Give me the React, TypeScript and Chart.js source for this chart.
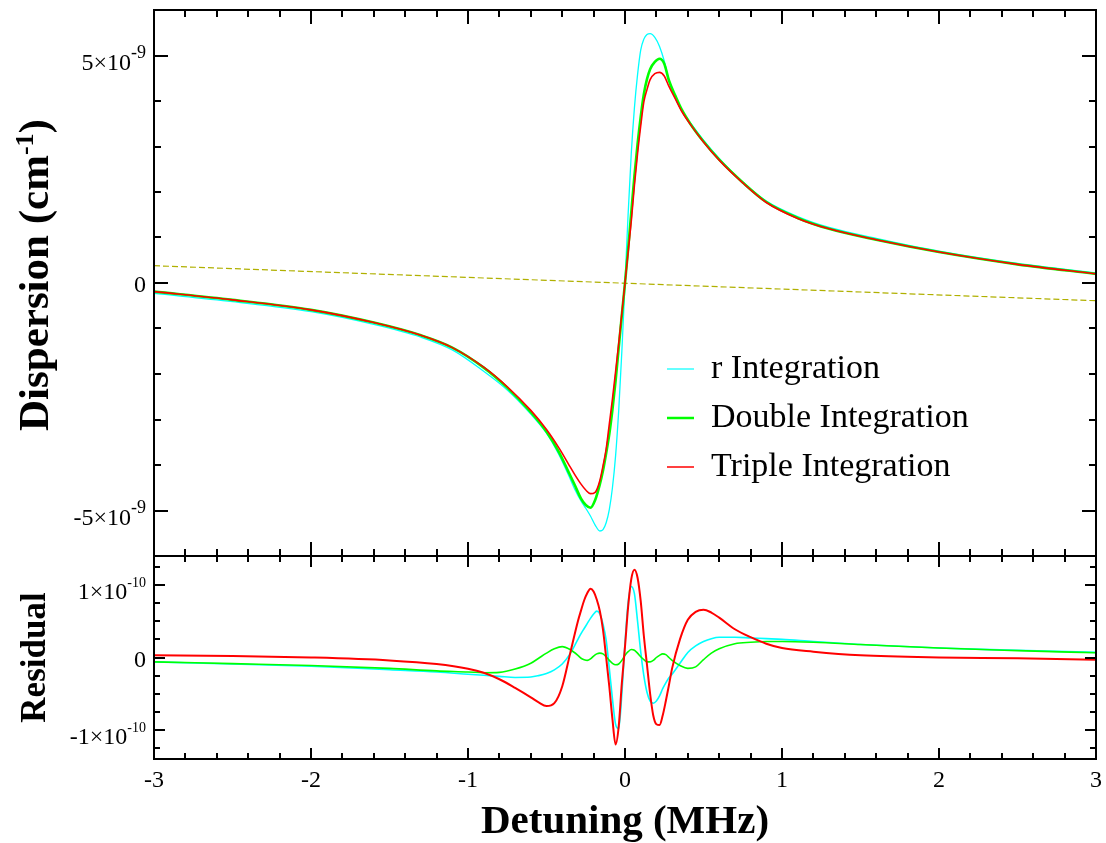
import React, { useEffect, useRef } from "react";
import { Chart, registerables } from "chart.js";

Chart.register(...registerables);

const FONT = '"Liberation Serif", "Times New Roman", Times, serif';

// ---------- Top panel: dispersion (units of 1e-9 cm^-1) ----------
const detuningMain = [
  -3, -2.5, -2, -1.6, -1.3, -1.1, -0.9, -0.75, -0.6, -0.5, -0.42, -0.36, -0.32, -0.28, -0.25, -0.22, -0.19, -0.16, -0.14,
  -0.12, -0.1, -0.08, -0.06, -0.04, -0.02, 0, 0.02, 0.04, 0.06, 0.08, 0.1, 0.12, 0.14, 0.16, 0.19, 0.22, 0.25, 0.28, 0.32,
  0.36, 0.42, 0.5, 0.6, 0.75, 0.9, 1.1, 1.3, 1.6, 2, 2.5, 3,
];
const rIntegration = [
  -0.23, -0.41, -0.63, -0.91, -1.19, -1.47, -1.94, -2.35, -2.88, -3.3, -3.78, -4.22, -4.53, -4.79, -4.95, -5.12, -5.32, -5.45,
  -5.42, -5.27, -4.98, -4.5, -3.8, -2.8, -1.5, 0, 1.52, 2.85, 3.85, 4.58, 5.12, 5.36, 5.46, 5.48, 5.4, 5.2, 4.88, 4.45, 4.06,
  3.8, 3.5, 3.14, 2.74, 2.22, 1.8, 1.46, 1.22, 0.98, 0.7, 0.43, 0.22,
];
const doubleIntegration = [
  -0.19, -0.37, -0.59, -0.87, -1.15, -1.42, -1.86, -2.3, -2.84, -3.27, -3.72, -4.15, -4.44, -4.74, -4.88, -4.94, -4.77, -4.42,
  -4.12, -3.74, -3.32, -2.78, -2.15, -1.42, -0.7, 0, 0.75, 1.55, 2.35, 3.05, 3.65, 4.15, 4.48, 4.7, 4.86, 4.93, 4.82, 4.45,
  4.12, 3.82, 3.48, 3.11, 2.71, 2.21, 1.78, 1.43, 1.19, 0.95, 0.68, 0.41, 0.2,
];
const tripleIntegration = [
  -0.19, -0.37, -0.59, -0.87, -1.15, -1.42, -1.85, -2.28, -2.8, -3.22, -3.63, -3.98, -4.21, -4.42, -4.55, -4.63, -4.6, -4.34,
  -4.02, -3.65, -3.1, -2.55, -1.95, -1.33, -0.66, 0, 0.68, 1.36, 2.15, 2.85, 3.45, 3.98, 4.25, 4.47, 4.6, 4.63, 4.55, 4.32,
  4.05, 3.78, 3.47, 3.1, 2.7, 2.2, 1.77, 1.42, 1.19, 0.95, 0.68, 0.41, 0.2,
];
const baselineDetuning = [-3, 3];
const baselineValues = [0.38, -0.39];

// ---------- Bottom panel: residual (units of 1e-10) ----------
const detuningResidual = [
  -3, -2.5, -2, -1.5, -1.2, -1.0, -0.9, -0.8, -0.7, -0.6, -0.55, -0.5, -0.45, -0.4, -0.35, -0.3, -0.28, -0.26, -0.24, -0.22,
  -0.2, -0.18, -0.16, -0.14, -0.12, -0.1, -0.08, -0.06, -0.04, -0.02, 0, 0.02, 0.04, 0.06, 0.08, 0.1, 0.12, 0.14, 0.16, 0.18,
  0.2, 0.22, 0.24, 0.26, 0.28, 0.3, 0.35, 0.4, 0.45, 0.5, 0.55, 0.6, 0.7, 0.8, 0.9, 1.0, 1.2, 1.5, 2, 2.5, 3,
];
const rResidual = [
  -0.06, -0.09, -0.12, -0.17, -0.2, -0.23, -0.245, -0.26, -0.275, -0.27, -0.25, -0.22, -0.17, -0.09, 0.05, 0.25, 0.33, 0.4,
  0.47, 0.54, 0.6, 0.64, 0.6, 0.46, 0.24, -0.15, -0.57, -0.92, -0.98, -0.5, 0.2, 0.76, 0.98, 0.88, 0.5, 0.08, -0.25, -0.48,
  -0.6, -0.63, -0.6, -0.53, -0.43, -0.35, -0.28, -0.23, -0.08, 0.07, 0.16, 0.22, 0.26, 0.28, 0.28, 0.27, 0.26, 0.25, 0.22,
  0.18, 0.13, 0.1, 0.07,
];
const doubleResidual = [
  -0.06, -0.085, -0.11, -0.15, -0.185, -0.2, -0.21, -0.205, -0.16, -0.08, -0.01, 0.06, 0.12, 0.15, 0.11, 0.03, -0.01, -0.03,
  -0.04, -0.02, 0.02, 0.05, 0.06, 0.05, 0.01, -0.04, -0.08, -0.1, -0.09, -0.04, 0.03, 0.08, 0.11, 0.1, 0.06, 0.01, -0.03,
  -0.06, -0.06, -0.04, 0.0, 0.03, 0.05, 0.04, 0.0, -0.04, -0.11, -0.15, -0.13, -0.03, 0.06, 0.12, 0.19, 0.21, 0.22, 0.22,
  0.21, 0.18, 0.13, 0.095, 0.065,
];
const tripleResidual = [
  0.03, 0.02, 0.0, -0.04, -0.09, -0.155, -0.21, -0.3, -0.42, -0.55, -0.62, -0.67, -0.63, -0.4, 0.05, 0.5, 0.65, 0.79, 0.89,
  0.95, 0.91, 0.8, 0.64, 0.38, 0.0, -0.4, -0.85, -1.2, -0.95, -0.35, 0.15, 0.7, 1.08, 1.21, 1.1, 0.78, 0.3, -0.1, -0.5, -0.8,
  -0.92, -0.93, -0.8, -0.6, -0.38, -0.15, 0.25, 0.52, 0.63, 0.66, 0.62, 0.55, 0.39, 0.28, 0.19, 0.13, 0.08, 0.03, 0.0, -0.01,
  -0.03,
];

// ---------- Axis labels ----------
const xTickValues = [-3, -2, -1, 0, 1, 2, 3];
const xTickLabels = ["-3", "-2", "-1", "0", "1", "2", "3"];
const topTickValues = [-5, 0, 5];
const topTickMantissas = ["-5\u00d710", "0", "5\u00d710"];
const topTickExponents = ["-9", "", "-9"];
const resTickValues = [-1, 0, 1];
const resTickMantissas = ["-1\u00d710", "0", "1\u00d710"];
const resTickExponents = ["-10", "", "-10"];
const seriesLabels = ["r Integration", "Double Integration", "Triple Integration"];
const seriesColors = ["#00ffff", "#00ff00", "#ff0000"];

const W = 1106;
const H = 843;

function pts(xs: number[], ys: number[]) {
  return xs.map((x, i) => ({ x, y: ys[i] }));
}

function drawTicksAndFrame(chart: any, yMinorStep: number, yMajorEvery: number, yMin: number, yMax: number, majLen: number, minLen: number, xMajLen: number, xMinLen: number) {
  const { ctx, chartArea: a, scales } = chart;
  const xs = scales.x;
  const ys = scales.y;
  ctx.save();
  ctx.strokeStyle = "#000";
  ctx.lineWidth = 2;
  ctx.lineCap = "butt";
  ctx.beginPath();
  for (let i = 1; i < 30; i++) {
    const v = -3 + i * 0.2;
    const px = Math.round(xs.getPixelForValue(v));
    const len = i % 5 === 0 ? xMajLen : xMinLen;
    ctx.moveTo(px, a.top);
    ctx.lineTo(px, a.top + len);
    ctx.moveTo(px, a.bottom);
    ctx.lineTo(px, a.bottom - len);
  }
  const n0 = Math.ceil(yMin / yMinorStep - 1e-9);
  const n1 = Math.floor(yMax / yMinorStep + 1e-9);
  for (let k = n0; k <= n1; k++) {
    const v = k * yMinorStep;
    if (v <= yMin + 1e-9 || v >= yMax - 1e-9) continue;
    const py = Math.round(ys.getPixelForValue(v));
    const len = k % yMajorEvery === 0 ? majLen : minLen;
    ctx.moveTo(a.left, py);
    ctx.lineTo(a.left + len, py);
    ctx.moveTo(a.right, py);
    ctx.lineTo(a.right - len, py);
  }
  ctx.stroke();
  ctx.strokeRect(a.left, a.top, a.right - a.left, a.bottom - a.top);
  ctx.restore();
}

function drawSci(ctx: CanvasRenderingContext2D, mant: string, exp: string, rightX: number, tickY: number, expSize: number) {
  ctx.fillStyle = "#000";
  ctx.textBaseline = "alphabetic";
  ctx.textAlign = "left";
  if (!exp) {
    ctx.font = `24px ${FONT}`;
    const w = ctx.measureText(mant).width;
    ctx.fillText(mant, rightX - w, tickY + 9);
    return;
  }
  ctx.font = `${expSize}px ${FONT}`;
  const we = ctx.measureText(exp).width;
  ctx.font = `24px ${FONT}`;
  const wm = ctx.measureText(mant).width;
  ctx.fillText(mant, rightX - we - wm, tickY + 14);
  ctx.font = `${expSize}px ${FONT}`;
  ctx.fillText(exp, rightX - we, tickY + 2);
}

const topDecor = {
  id: "topDecor",
  afterDatasetsDraw(chart: any) {
    const { ctx, chartArea: a, scales } = chart;
    drawTicksAndFrame(chart, 1, 5, -6, 6, 14, 7, 14, 7);
    ctx.save();
    topTickValues.forEach((v, i) => {
      drawSci(ctx, topTickMantissas[i], topTickExponents[i], a.left - 8, scales.y.getPixelForValue(v), 18);
    });
    ctx.translate(48, 275);
    ctx.rotate(-Math.PI / 2);
    ctx.fillStyle = "#000";
    ctx.textBaseline = "alphabetic";
    ctx.textAlign = "left";
    const p1 = "Dispersion (cm";
    const sup = "-1";
    const p3 = ")";
    ctx.font = `bold 43px ${FONT}`;
    const w1 = ctx.measureText(p1).width;
    const w3 = ctx.measureText(p3).width;
    ctx.font = `bold 26px ${FONT}`;
    const ws = ctx.measureText(sup).width;
    const start = -(w1 + ws + w3) / 2;
    ctx.font = `bold 43px ${FONT}`;
    ctx.fillText(p1, start, 0);
    ctx.fillText(p3, start + w1 + ws, 0);
    ctx.font = `bold 26px ${FONT}`;
    ctx.fillText(sup, start + w1, -15);
    ctx.restore();

    ctx.save();
    const legendRows = [369, 418, 467];
    const widths = [1.2, 2.5, 1.5];
    seriesLabels.forEach((lab, i) => {
      const y = legendRows[i];
      ctx.strokeStyle = seriesColors[i];
      ctx.lineWidth = widths[i];
      ctx.beginPath();
      ctx.moveTo(667, y);
      ctx.lineTo(694, y);
      ctx.stroke();
      ctx.fillStyle = "#000";
      ctx.font = `34px ${FONT}`;
      ctx.textAlign = "left";
      ctx.textBaseline = "alphabetic";
      ctx.fillText(lab, 711, y + 9);
    });
    ctx.restore();
  },
};

const bottomDecor = {
  id: "bottomDecor",
  afterDatasetsDraw(chart: any) {
    const { ctx, chartArea: a, scales } = chart;
    drawTicksAndFrame(chart, 0.25, 4, -1.4, 1.4, 11, 6, 11, 6);
    ctx.save();
    resTickValues.forEach((v, i) => {
      drawSci(ctx, resTickMantissas[i], resTickExponents[i], a.left - 8, scales.y.getPixelForValue(v), 14);
    });
    ctx.fillStyle = "#000";
    ctx.font = `24px ${FONT}`;
    ctx.textAlign = "center";
    ctx.textBaseline = "alphabetic";
    xTickValues.forEach((v, i) => {
      ctx.fillText(xTickLabels[i], scales.x.getPixelForValue(v), 787);
    });
    ctx.font = `bold 41px ${FONT}`;
    ctx.fillText("Detuning (MHz)", (a.left + a.right) / 2, 833);
    ctx.translate(45, (a.top + a.bottom) / 2);
    ctx.rotate(-Math.PI / 2);
    ctx.font = `bold 35px ${FONT}`;
    ctx.fillText("Residual", 0, 0);
    ctx.restore();
  },
};

function baseOptions(padding: any, yMin: number, yMax: number) {
  return {
    responsive: false,
    animation: false as const,
    events: [] as any[],
    layout: { padding },
    scales: {
      x: { type: "linear" as const, min: -3, max: 3, display: false },
      y: { type: "linear" as const, min: yMin, max: yMax, display: false },
    },
    plugins: { legend: { display: false }, tooltip: { enabled: false } },
    elements: { point: { radius: 0 } },
  };
}

function line(label: string, data: any[], color: string, width: number, order: number, extra: any = {}) {
  return {
    label,
    data,
    borderColor: color,
    backgroundColor: color,
    borderWidth: width,
    pointRadius: 0,
    fill: false,
    cubicInterpolationMode: "monotone" as const,
    order,
    ...extra,
  };
}

export default function App() {
  const topRef = useRef<HTMLCanvasElement>(null);
  const botRef = useRef<HTMLCanvasElement>(null);

  useEffect(() => {
    const top = new Chart(topRef.current as HTMLCanvasElement, {
      type: "line",
      data: {
        datasets: [
          line(seriesLabels[0], pts(detuningMain, rIntegration), seriesColors[0], 1.3, 2),
          line(seriesLabels[1], pts(detuningMain, doubleIntegration), seriesColors[1], 2.6, 1),
          line(seriesLabels[2], pts(detuningMain, tripleIntegration), seriesColors[2], 1.6, 0),
          line("baseline", pts(baselineDetuning, baselineValues), "#b0b000", 1.2, 3, { borderDash: [6, 3] }),
        ],
      },
      options: baseOptions({ left: 154, top: 10, right: 10, bottom: 287 }, -6, 6) as any,
      plugins: [topDecor],
    });
    const bot = new Chart(botRef.current as HTMLCanvasElement, {
      type: "line",
      data: {
        datasets: [
          line(seriesLabels[0], pts(detuningResidual, rResidual), seriesColors[0], 1.6, 2),
          line(seriesLabels[1], pts(detuningResidual, doubleResidual), seriesColors[1], 1.6, 1),
          line(seriesLabels[2], pts(detuningResidual, tripleResidual), seriesColors[2], 2, 0),
        ],
      },
      options: baseOptions({ left: 154, top: 556, right: 10, bottom: 84 }, -1.4, 1.4) as any,
      plugins: [bottomDecor],
    });
    return () => {
      top.destroy();
      bot.destroy();
    };
  }, []);

  const cstyle: React.CSSProperties = { position: "absolute", left: 0, top: 0, display: "block" };
  return (
    <div style={{ position: "absolute", left: 0, top: 0, width: W, height: H, background: "#fff" }}>
      <canvas ref={topRef} width={W} height={H} style={cstyle} />
      <canvas ref={botRef} width={W} height={H} style={cstyle} />
    </div>
  );
}
